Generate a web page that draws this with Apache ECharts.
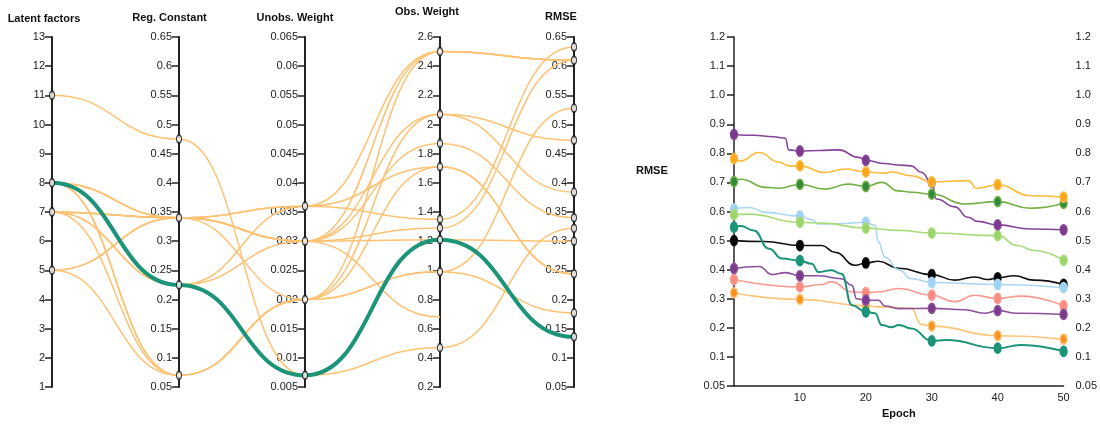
<!DOCTYPE html>
<html><head><meta charset="utf-8">
<script src="https://cdn.jsdelivr.net/npm/echarts@6/dist/echarts.min.js"></script>
<style>html,body{margin:0;padding:0;background:#fff}#c{width:1100px;height:424px}</style>
</head><body><div id="c"></div>
<script>
// ---- Parallel coordinates data ----
const dimNames = ['Latent factors', 'Reg. Constant', 'Unobs. Weight', 'Obs. Weight', 'RMSE'];
const dimMin = [1, 0.05, 0.005, 0.2, 0.05];
const dimMax = [13, 0.65, 0.065, 2.6, 0.65];
const dimStep = [1, 0.05, 0.005, 0.2, 0.05];
// rows: [latent, reg, unobs, obs, rmse]  (null = value missing)
const runs = [
  [11, 0.475, 0.007, 0.47, 0.322],
  [7, 0.225, 0.036, 2.5, 0.61],
  [7, 0.225, 0.03, 2.07, 0.473],
  [8, 0.34, 0.036, 1.71, 0.244],
  [7, 0.34, 0.036, 1.35, 0.633],
  [7, 0.34, 0.03, 2.5, 0.61],
  [5, 0.34, 0.03, 1.87, 0.34],
  [8, 0.34, 0.03, 1.29, 0.61],
  [7, 0.34, 0.03, 1.21, 0.30],
  [5, 0.34, 0.03, 0.68, null],
  [8, 0.34, 0.02, 1.71, 0.244],
  [8, 0.07, 0.02, 2.5, 0.61],
  [7, 0.07, 0.02, 2.07, 0.384],
  [5, 0.07, 0.02, 0.99, 0.528],
  [8, 0.07, 0.02, 0.99, 0.177]
];
const bestRun = [8, 0.225, 0.007, 1.21, 0.136];

// ---- Training curves (epoch, RMSE) ----
const epochTicks = [0, 10, 20, 30, 40, 50];
const curvePurpleTop = [[0,0.865],[3,0.862],[6,0.857],[7.8,0.852],[8.3,0.812],[10,0.808],[13,0.81],[15.9,0.812],[18.9,0.786],[20,0.776],[22.9,0.765],[24.9,0.76],[26.9,0.757],[28.4,0.735],[30,0.70],[30.7,0.643],[33.5,0.616],[35.5,0.58],[37,0.566],[40,0.554],[45,0.54],[50,0.537]];
const curveGold = [[0,0.782],[1,0.774],[3.8,0.803],[6.8,0.77],[8.3,0.757],[10,0.757],[13.8,0.734],[16.9,0.746],[20,0.736],[22.9,0.732],[23.9,0.736],[26.9,0.723],[30,0.702],[35.5,0.706],[36.8,0.68],[40,0.692],[45,0.654],[50,0.649]];
const curveGreen = [[0,0.703],[1,0.711],[4.8,0.683],[6.8,0.68],[10,0.693],[13.8,0.677],[17.3,0.694],[20,0.686],[22.4,0.70],[24.9,0.671],[27,0.666],[30,0.66],[35,0.626],[40,0.634],[45,0.611],[50,0.628]];
const curveLightBlue = [[0,0.609],[2.3,0.614],[4.8,0.597],[10,0.584],[11.8,0.572],[12.8,0.557],[16,0.558],[20,0.563],[21.4,0.552],[21.9,0.495],[22.9,0.443],[25,0.40],[26.9,0.369],[30,0.356],[40,0.349],[50,0.338]];
const curveLightGreen = [[0,0.589],[2.1,0.591],[10,0.563],[13.3,0.56],[20,0.543],[25,0.535],[30,0.526],[40,0.517],[43,0.483],[45.5,0.466],[50,0.432]];
const curveTeal = [[0,0.546],[1,0.55],[3,0.535],[5.3,0.472],[7.3,0.438],[10,0.431],[11.8,0.42],[12.8,0.392],[14.8,0.398],[16.3,0.386],[17.9,0.278],[20,0.255],[21.4,0.25],[22.4,0.21],[23.9,0.202],[25,0.21],[26.9,0.198],[30,0.155],[32.2,0.158],[40,0.13],[43.5,0.141],[50,0.119]];
const curveBlack = [[0,0.50],[4.6,0.497],[10,0.483],[13.3,0.483],[15.3,0.46],[18.4,0.415],[20,0.423],[21.9,0.429],[25,0.405],[30,0.383],[33.5,0.364],[36.5,0.375],[38.5,0.366],[40,0.372],[42.5,0.379],[45.5,0.364],[50,0.349]];
const curvePurpleLow = [[0,0.404],[3.8,0.411],[5.8,0.383],[7.8,0.39],[10,0.379],[12.8,0.379],[16.3,0.369],[17.9,0.346],[18.6,0.30],[20,0.295],[21.9,0.295],[22.9,0.275],[25,0.266],[30,0.267],[35,0.262],[38,0.25],[40,0.259],[43,0.25],[50,0.246]];
const curveSalmon = [[0,0.366],[10,0.341],[13.3,0.349],[14.8,0.358],[17.9,0.324],[20,0.321],[21.9,0.324],[25,0.335],[30,0.312],[33.5,0.29],[36.5,0.312],[40,0.301],[43.5,0.309],[50,0.276]];
const curveOrange = [[0,0.32],[10,0.298],[20,0.276],[21.9,0.272],[26.9,0.267],[28.4,0.212],[30,0.206],[40,0.173],[50,0.161]];
const rmseAxis = [0, 1.2, 0.1];

const FONT = "'Liberation Sans', Arial, sans-serif";
// layout (pixels) of the parallel axes
const axisX = [52, 179, 305, 440, 574];
const nameShift = [16, 19, 20, 26, 26];
const nameGaps = [13, 14, 14, 20, 15];
const AT = 37, AH = 350;

const curveDefs = [
  {d: curveSalmon, line: '#fb9a90', mk: '#fb8a80', w: 1.6},
  {d: curveOrange, line: '#fdc57a', mk: '#f7931e', w: 1.6},
  {d: curvePurpleLow, line: '#8c4f9c', mk: '#7b3a8e', w: 1.6},
  {d: curveBlack, line: '#111111', mk: '#000000', w: 1.6},
  {d: curveLightBlue, line: '#a9d7f3', mk: '#9fd2f2', w: 1.6},
  {d: curveLightGreen, line: '#a7dc7a', mk: '#9bd46b', w: 1.6},
  {d: curveTeal, line: '#1b9478', mk: '#1b9478', w: 2},
  {d: curveGreen, line: '#72b043', mk: '#2f8a3c', w: 1.6},
  {d: curvePurpleTop, line: '#86459a', mk: '#7b3a8e', w: 1.6},
  {d: curveGold, line: '#fdbb3a', mk: '#f8a51f', w: 1.6}
];

const grids = [], xAxes = [], yAxes = [], series = [];
dimNames.forEach((n, i) => {
  grids.push({left: axisX[i], width: 10, top: AT, height: AH});
  xAxes.push({gridIndex: i, type: 'value', min: 0, max: 1, show: false});
  yAxes.push({gridIndex: i, type: 'value', min: dimMin[i], max: dimMax[i], interval: dimStep[i], position: 'left',
    name: n, nameLocation: 'end', nameGap: nameGaps[i],
    nameTextStyle: {fontFamily: FONT, fontSize: 11, fontWeight: 'bold', color: '#111', align: 'center', padding: [0, nameShift[i], 0, 0]},
    axisLine: {show: true, lineStyle: {color: '#222', width: 2}},
    axisTick: {show: true, length: 7, lineStyle: {color: '#222', width: 1.5}},
    splitLine: {show: false},
    axisLabel: {fontFamily: FONT, fontSize: 11, color: '#222', margin: 7}});
  const complete = runs.filter(r => r.every(v => v !== null)).concat([bestRun]);
  const vals = [...new Set(complete.map(r => r[i]))];
  series.push({type: 'scatter', xAxisIndex: i, yAxisIndex: i, z: 10, silent: true,
    symbol: 'circle', symbolSize: [5, 8],
    itemStyle: {color: '#fff', borderColor: '#111', borderWidth: 1.5},
    data: vals.map(v => [0, v])});
});
// right chart grid
grids.push({left: 734, right: 34, top: 37, bottom: 36});
xAxes.push({gridIndex: 5, type: 'value', min: 0, max: 50, interval: 10,
  name: 'Epoch', nameLocation: 'middle', nameGap: 22,
  nameTextStyle: {fontFamily: FONT, fontSize: 11, fontWeight: 'bold', color: '#111'},
  axisLine: {lineStyle: {color: '#222', width: 1.5}}, axisTick: {show: false}, splitLine: {show: false},
  axisLabel: {fontFamily: FONT, fontSize: 11, color: '#222', margin: 6, formatter: v => v === 0 ? '' : String(v)}});
const yFmt = v => v === 0 ? '0.05' : v.toFixed(1);
yAxes.push({gridIndex: 5, type: 'value', min: rmseAxis[0], max: rmseAxis[1], interval: rmseAxis[2], position: 'left',
  axisLine: {show: true, lineStyle: {color: '#222', width: 1.5}}, axisTick: {show: true, length: 7, lineStyle: {color: '#222', width: 1.5}},
  splitLine: {show: false}, axisLabel: {fontFamily: FONT, fontSize: 11, color: '#222', margin: 9, formatter: yFmt}});
yAxes.push({gridIndex: 5, type: 'value', min: rmseAxis[0], max: rmseAxis[1], interval: rmseAxis[2], position: 'right',
  axisLine: {show: false}, axisTick: {show: false}, splitLine: {show: false},
  axisLabel: {fontFamily: FONT, fontSize: 11, color: '#222', margin: 12, formatter: yFmt}});

curveDefs.forEach(c => {
  series.push({type: 'line', xAxisIndex: 5, yAxisIndex: 5, smooth: 0.5, smoothMonotone: 'x',
    data: c.d, symbol: 'circle',
    symbolSize: (v) => epochTicks.includes(v[0]) ? [7, 10] : 0,
    lineStyle: {color: c.line, width: c.w},
    itemStyle: {color: c.mk, borderColor: c.line, borderWidth: 1.5}});
});

const chart = echarts.init(document.getElementById('c'), null, {renderer: 'canvas'});
const baseOption = {
  animation: false,
  backgroundColor: '#fff',
  title: [{text: 'RMSE', left: 631, top: 160, textStyle: {fontFamily: FONT, fontSize: 11, fontWeight: 'bold', color: '#111'}}],
  grid: grids, xAxis: xAxes, yAxis: yAxes,
  series: series
};
chart.setOption(baseOption);

// second pass: the run lines, positioned through the axes' own scales
const allRuns = runs.concat([bestRun]);
const runPaths = allRuns.map(r => {
  const pts = [];
  r.forEach((v, i) => { if (v !== null) pts.push(chart.convertToPixel({gridIndex: i}, [0, v])); });
  let d = 'M' + pts[0][0] + ' ' + pts[0][1];
  for (let k = 1; k < pts.length; k++) {
    const a = pts[k - 1], b = pts[k], mx = (a[0] + b[0]) / 2;
    d += ' C' + mx + ' ' + a[1] + ' ' + mx + ' ' + b[1] + ' ' + b[0] + ' ' + b[1];
  }
  return d;
});
series.push({type: 'custom', coordinateSystem: 'none', z: 3, silent: true,
  data: allRuns.map((r, k) => k),
  renderItem: (params) => {
    const k = params.dataIndex;
    const best = k === allRuns.length - 1;
    return {type: 'path', shape: {pathData: runPaths[k]},
      style: {fill: null, stroke: best ? '#1b9478' : '#fdc273', lineWidth: best ? 4 : 1.5}};
  }});
chart.setOption({series: series});
</script></body></html>
